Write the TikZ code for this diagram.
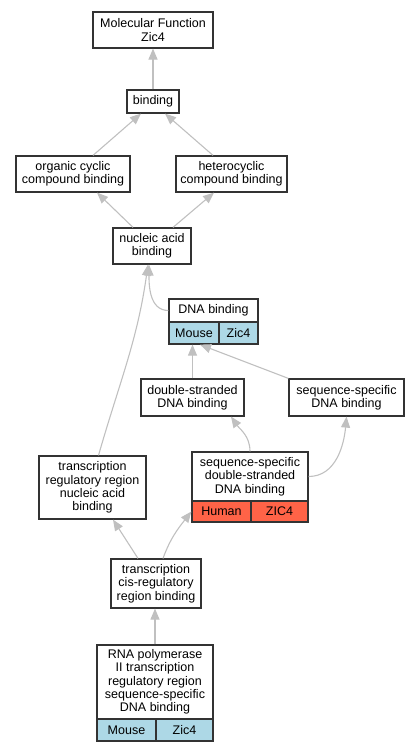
\documentclass[tikz,border=0pt]{standalone}
\usepackage{fontspec}
\setmainfont{Liberation Sans}
\usetikzlibrary{arrows.meta}
\definecolor{mouseblue}{HTML}{ADD8E6}
\definecolor{humanred}{HTML}{FF6347}
\definecolor{edgegray}{HTML}{C0C0C0}
\tikzset{
  term/.style={draw=black!80, line width=1.2pt, fill=white, align=center, inner sep=0pt,
    font=\fontsize{12.5}{13.3}\selectfont},
  mouserow/.style={term, fill=mouseblue},
  humanrow/.style={term, fill=humanred},
  isa/.style={draw=edgegray, line width=1.1pt, -{Triangle[length=11pt,width=9pt]}},
}

\begin{document}
\begin{tikzpicture}[x=1pt,y=-1pt]
\useasboundingbox (0,0) rectangle (420,752);

\node[term, minimum width=120pt, minimum height=36pt] (mf) at (153,30) {Molecular Function\\Zic4};
\node[term, minimum width=52pt, minimum height=23pt] (bind) at (153,101.5) {binding};
\node[term, minimum width=114pt, minimum height=36pt] (ocb) at (73,174) {organic cyclic\\compound binding};
\node[term, minimum width=111pt, minimum height=36pt] (hcb) at (231.5,174) {heterocyclic\\compound binding};
\node[term, minimum width=78pt, minimum height=36pt] (nab) at (152,246) {nucleic acid\\binding};

\node[term, minimum width=89pt, minimum height=23pt] (dnab) at (213.5,310.5) {DNA binding};
\node[mouserow, minimum width=50pt, minimum height=22pt] (dnabm) at (194,333) {Mouse};
\node[mouserow, minimum width=39pt, minimum height=22pt] (dnabg) at (238.5,333) {Zic4};

\node[term, minimum width=103pt, minimum height=37pt] (dsb) at (192.5,397.5) {double-stranded\\DNA binding};
\node[term, minimum width=115pt, minimum height=37pt] (ssb) at (346.5,397.5) {sequence-specific\\DNA binding};

\node[term, minimum width=107pt, minimum height=63pt] (trnab) at (92.5,487.5) {transcription\\regulatory region\\nucleic acid\\binding};

\node[term, minimum width=116pt, minimum height=49pt] (ssds) at (250,476.5) {sequence-specific\\double-stranded\\DNA binding};
\node[humanrow, minimum width=59pt, minimum height=21pt] (ssdsh) at (221.5,511.5) {Human};
\node[humanrow, minimum width=57pt, minimum height=21pt] (ssdsg) at (279.5,511.5) {ZIC4};

\node[term, minimum width=90pt, minimum height=49pt] (tcrb) at (156,583.5) {transcription\\cis-regulatory\\region binding};

\node[term, minimum width=116pt, minimum height=74pt] (rna) at (155,682) {RNA polymerase\\II transcription\\regulatory region\\sequence-specific\\DNA binding};
\node[mouserow, minimum width=59pt, minimum height=22pt] (rnam) at (126.5,730) {Mouse};
\node[mouserow, minimum width=57pt, minimum height=22pt] (rnag) at (184.5,730) {Zic4};

\draw[isa] (bind.north) -- (mf.south);
\draw[isa] ([xshift=20pt]ocb.north) -- ([xshift=-12pt]bind.south);
\draw[isa] ([xshift=-18.5pt]hcb.north) -- ([xshift=12pt]bind.south);
\draw[isa] ([xshift=-19pt]nab.north) -- ([xshift=24pt]ocb.south);
\draw[isa] ([xshift=21pt]nab.north) -- ([xshift=-17.5pt]hcb.south);
\draw[isa] (dnab.west) to[out=180,in=-90] ([xshift=-3pt]nab.south);
\draw[isa] ([xshift=6pt]trnab.north) to[out=74,in=-98] ([xshift=-4pt]nab.south);
\draw[isa] (dsb.north) -- (dsb.north |- dnabm.south);
\draw[isa] (ssb.north west) -- ([xshift=6pt]dnabm.south);
\draw[isa] (ssds.north) to[out=90,in=-55] ([xshift=38.5pt]dsb.south);
\draw[isa] (ssds.east) to[out=0,in=-95] (ssb.south);
\draw[isa] ([xshift=-18pt]tcrb.north) -- ([xshift=20.5pt]trnab.south);
\draw[isa] ([xshift=7pt]tcrb.north) to[out=70,in=-128] (ssdsh.west);
\draw[isa] (rna.north) -- (rna.north |- tcrb.south);
\end{tikzpicture}
\end{document}
